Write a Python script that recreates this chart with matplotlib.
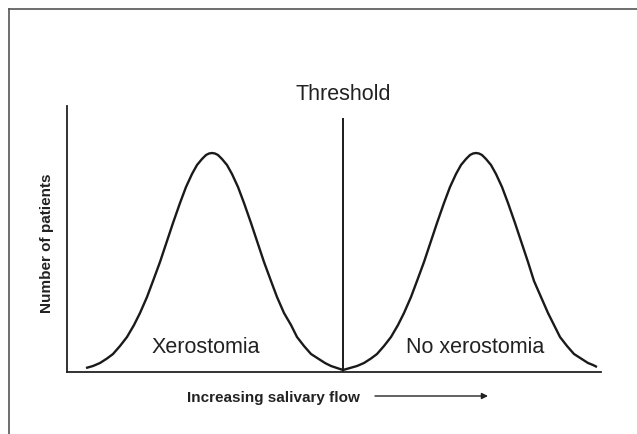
import matplotlib
matplotlib.use("Agg")
import matplotlib.pyplot as plt
from matplotlib.lines import Line2D

plt.rcParams['font.family'] = ['Liberation Sans', 'DejaVu Sans']

# Data (arbitrary units)
xero_x = [19, 26, 33, 40, 46, 53, 60, 67, 73, 80, 86, 93, 100, 106, 113, 119, 125, 130, 135, 139, 142, 145,
          148, 151, 155, 160, 165, 171, 177, 184, 190, 197, 204, 210, 217, 224, 230, 237, 244, 251, 258, 264, 270, 276]
xero_y = [4, 6, 9, 13.5, 18, 26, 35, 47, 59, 75, 91, 110, 131, 149, 169, 185, 198, 207, 213, 217, 218.5, 219,
          218.5, 217, 213, 207, 198, 185, 169, 149, 131, 110, 91, 75, 59, 47, 35, 26, 18, 13.5, 9, 6, 4, 2]
noxero_x = [276, 283, 290, 297, 304, 310, 317, 324, 331, 337, 344, 350, 357, 364, 370, 377, 383, 389, 394, 399,
            403, 406, 409, 412, 415, 419, 424, 429, 435, 441, 448, 454, 461, 467, 474, 481, 487, 493, 500, 507,
            514, 521, 526, 530]
noxero_y = [2, 4, 6, 9, 13.5, 18, 26, 35, 47, 59, 75, 91, 110, 131, 149, 169, 185, 198, 207, 213, 217, 218.5,
            219, 218.5, 217, 213, 207, 198, 185, 169, 149, 131, 110, 91, 75, 59, 47, 35, 26, 18, 13.5, 9, 7, 5]
threshold_x = 276
threshold_top = 253
axis_xmax = 534
axis_ymax = 266

labels = {
    'threshold': 'Threshold',
    'left': 'Xerostomia',
    'right': 'No xerostomia',
    'ylabel': 'Number of patients',
    'xlabel': 'Increasing salivary flow',
}

W, H = 637, 435
fig = plt.figure(figsize=(W / 100, H / 100), dpi=100)
ax = fig.add_axes([67 / W, 62 / H, 534 / W, 266 / H])
ax.set_xlim(0, axis_xmax)
ax.set_ylim(0, axis_ymax)
for s in ['top', 'right']:
    ax.spines[s].set_visible(False)
for s in ['left', 'bottom']:
    ax.spines[s].set_linewidth(1.3)
    ax.spines[s].set_color('#222222')
ax.set_xticks([])
ax.set_yticks([])

lc = '#1a1a1a'
ax.plot(xero_x, xero_y, color=lc, lw=1.7, solid_capstyle='butt', solid_joinstyle='round', clip_on=False)
ax.plot(noxero_x, noxero_y, color=lc, lw=1.7, solid_capstyle='butt', solid_joinstyle='round', clip_on=False)
ax.plot([threshold_x, threshold_x], [0, threshold_top], color=lc, lw=1.4)

tc = '#222222'
ax.text(threshold_x, 278, labels['threshold'], ha='center', va='center', fontsize=15.5, color=tc, clip_on=False)
ax.text(139, 25, labels['left'], ha='center', va='center', fontsize=15.5, color=tc)
ax.text(408, 25, labels['right'], ha='center', va='center', fontsize=15.5, color=tc)

fig.text(47 / W, 192 / H, labels['ylabel'], rotation=90, ha='center', va='center',
         fontsize=11, fontweight='bold', color=tc)
fig.text(273 / W, 37 / H, labels['xlabel'], ha='center', va='center',
         fontsize=11, fontweight='bold', color=tc)
ax.annotate('', xy=(488, 38), xycoords='figure pixels', xytext=(375, 38), textcoords='figure pixels',
            arrowprops=dict(arrowstyle='-|>', color='#222222', lw=1.0, mutation_scale=9,
                            shrinkA=0, shrinkB=0))

# outer frame
fc = '#555555'
fig.add_artist(Line2D([8.5 / W, 1.0], [1 - 10 / H, 1 - 10 / H], transform=fig.transFigure, color=fc, lw=1.2))
fig.add_artist(Line2D([8.5 / W, 8.5 / W], [0, 1 - 10 / H], transform=fig.transFigure, color=fc, lw=1.2))

fig.savefig('out.png', dpi=100)
